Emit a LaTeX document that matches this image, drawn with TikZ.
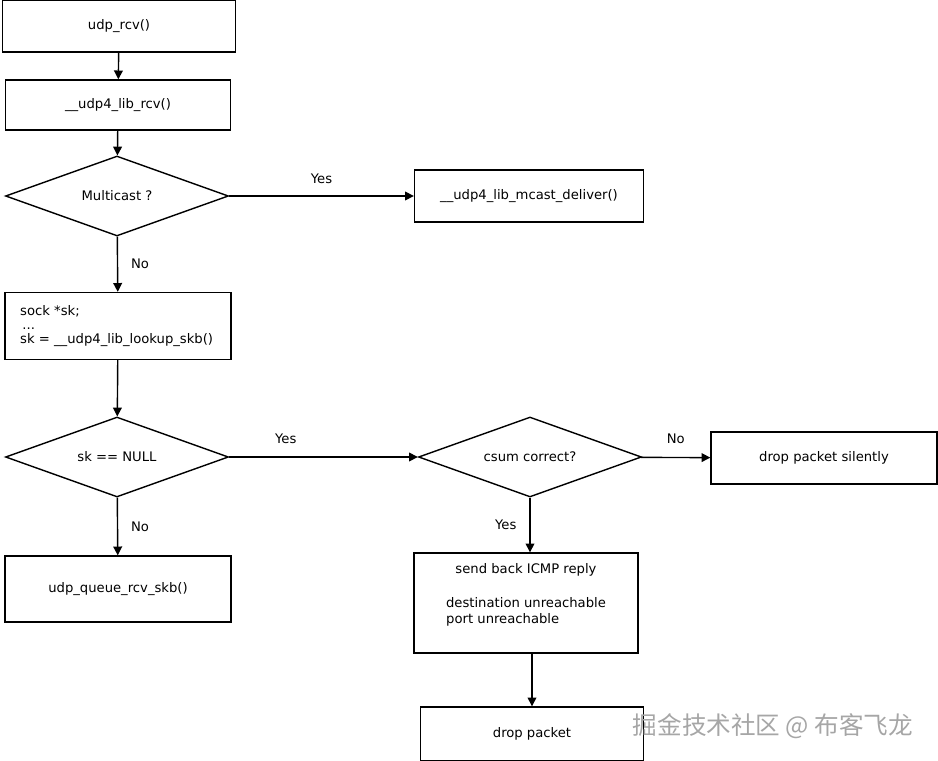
\documentclass[tikz,border=0pt]{standalone}
\usepackage{fontspec}
\setmainfont{DejaVu Sans}
\newfontfamily\cjk{Noto Sans CJK SC}
\usetikzlibrary{shapes.geometric,arrows.meta}

\tikzset{
  box/.style={draw,thick,rectangle,minimum width=4.5cm,minimum height=1.04cm,align=center},
  decision/.style={draw,thick,diamond,aspect=2.77,minimum width=4.46cm,minimum height=1.6cm,inner sep=0pt},
  flow/.style={thick,-{Triangle[length=5pt,width=5pt]}},
  lbl/.style={font=\fontsize{7.5}{9}\selectfont}
}

\begin{document}
\begin{tikzpicture}[x=0.02cm,y=-0.02cm,font=\fontsize{7.5}{9}\selectfont]
  \useasboundingbox (0,0) rectangle (938,761);
  % main column
  \node[box,minimum width=4.66cm] (rcv) at (119,26) {udp\_rcv()};
  \node[box,minimum width=4.5cm,minimum height=1cm] (librcv) at (118,105) {\_\_udp4\_lib\_rcv()};
  \node[decision] (mcast) at (117,196) {Multicast ?};
  \node[box,minimum width=4.58cm] (deliver) at (529,196) {\_\_udp4\_lib\_mcast\_deliver()};
  \node[box,minimum width=4.52cm,minimum height=1.34cm] (sock) at (118,326) {};
  \node[anchor=west] (sockt) at (14,326) {\begin{tabular}{@{}l@{}}sock *sk;\\[-1pt] \,...\\[-1pt] sk = \_\_udp4\_lib\_lookup\_skb()\end{tabular}};
  \node[decision] (isnull) at (117,457) {sk == NULL};
  \node[decision] (csum) at (530,457) {csum correct?};
  \node[box,minimum width=4.52cm] (silent) at (824,458) {drop packet silently};
  \node[box,minimum width=4.52cm,minimum height=1.32cm] (queue) at (118,589) {udp\_queue\_rcv\_skb()};
  \node[box,minimum width=4.48cm,minimum height=2cm] (icmp) at (526,603) {};
  \node (icmpa) at (526,570) {send back ICMP reply};
  \node (icmpb) at (526,603) {destination unreachable};
  \node[anchor=west] (icmpc) at (440,620) {port unreachable};
  \node[box,minimum width=4.46cm,minimum height=1.08cm] (drop) at (532,734) {drop packet};

  % connectors
  \draw[flow] (rcv) -- (librcv);
  \draw[flow] (librcv) -- (mcast);
  \draw[flow] (mcast) -- node[lbl,above=3pt] {Yes} (deliver);
  \draw[flow] (mcast) -- node[lbl,right=4pt] {No} (sock);
  \draw[flow] (sock) -- (isnull);
  \draw[flow] (isnull) -- node[lbl,above=4pt,pos=0.3] {Yes} (csum);
  \draw[flow] (isnull) -- node[lbl,right=4pt] {No} (queue);
  \draw[flow] (csum) -- node[lbl,above=4pt] {No} (silent);
  \draw[flow] (csum.south) -- node[lbl,left=4pt] {Yes} (csum.south |- icmp.north);
  \draw[flow] (icmp.south -| drop) -- (drop);

  \node[text=gray!70,font=\cjk\fontsize{14}{16}\selectfont] (mark) at (773,726) {掘金技术社区 @ 布客飞龙};
\end{tikzpicture}
\end{document}
